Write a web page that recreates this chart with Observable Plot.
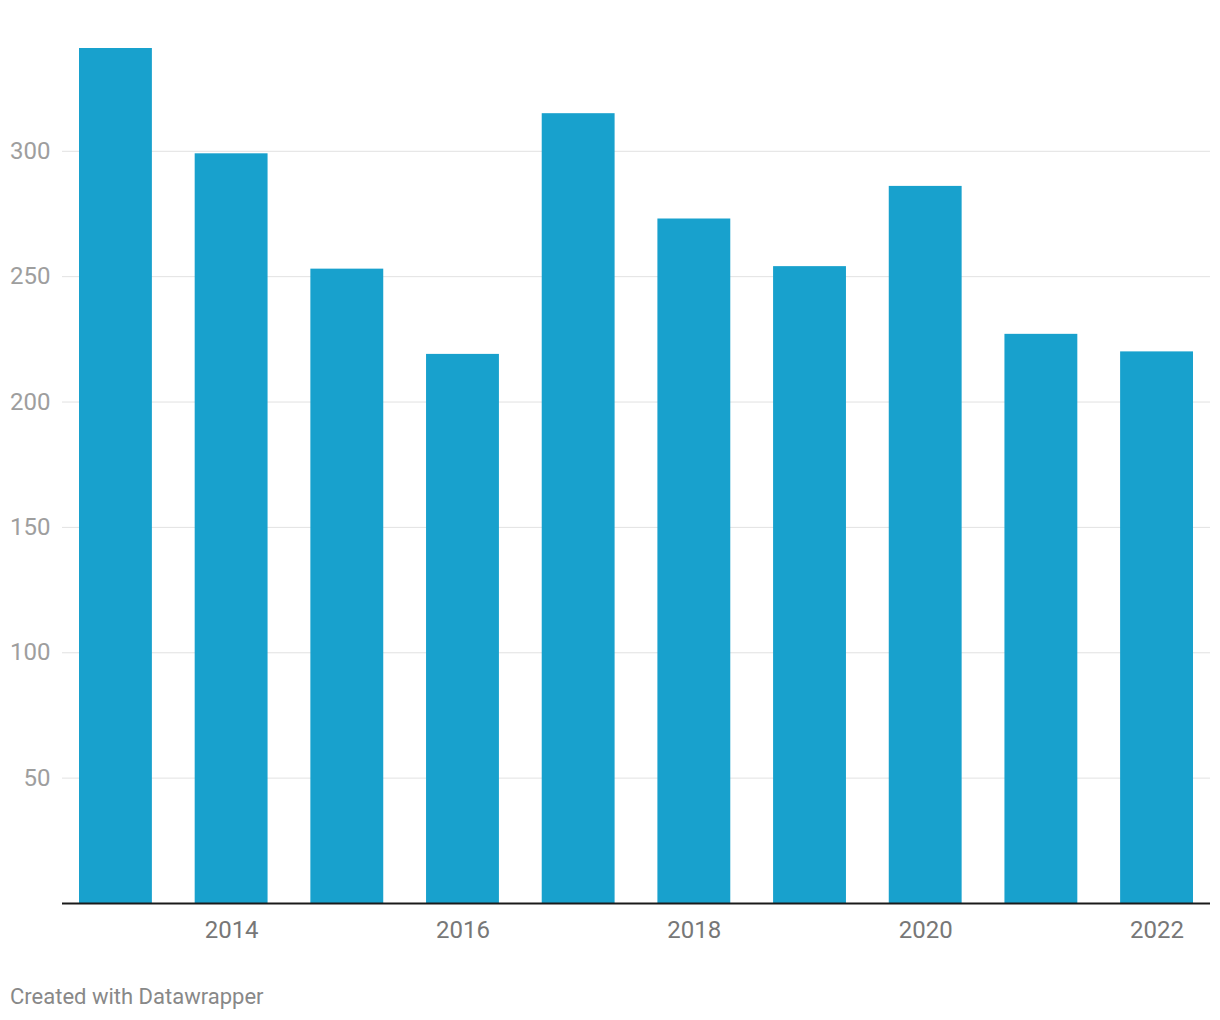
<!DOCTYPE html>
<html>
<head>
<meta charset="utf-8">
<script src="https://cdn.jsdelivr.net/npm/d3@7"></script>
<script src="https://cdn.jsdelivr.net/npm/@observablehq/plot@0.6"></script>
<style>
  html, body { margin: 0; padding: 0; background: #fff; }
  #wrap { position: relative; width: 1220px; height: 1020px; font-family: Roboto, sans-serif; }
  #caption { position: absolute; left: 10px; top: 984px; font-size: 22px; line-height: 26px; color: #888; }
</style>
</head>
<body>
<div id="wrap">
  <div id="chart"></div>
  <div id="caption">Created with Datawrapper</div>
</div>
<script>
const years = [2013, 2014, 2015, 2016, 2017, 2018, 2019, 2020, 2021, 2022];
const values = [341, 299, 253, 219, 315, 273, 254, 286, 227, 220];
const yTicks = [50, 100, 150, 200, 250, 300];
const xTicks = [2014, 2016, 2018, 2020, 2022];

const data = years.map((y, i) => ({year: y, value: values[i]}));

const chart = Plot.plot({
  width: 1220,
  height: 950,
  marginLeft: 62,
  marginRight: 10,
  marginTop: 48,
  marginBottom: 47,
  style: {fontFamily: "Roboto, sans-serif", background: "#fff"},
  x: {type: "band", domain: years, paddingInner: 0.37, paddingOuter: 0.147, round: false, label: null},
  y: {domain: [0, 341], label: null},
  marks: [
    Plot.gridY(yTicks, {stroke: "#e2e2e2", strokeOpacity: 1, strokeWidth: 1}),
    Plot.barY(data, {x: "year", y: "value", fill: "#18a1cd"}),
    Plot.ruleY([0], {stroke: "#1a1a1a", strokeWidth: 2}),
    Plot.axisY(yTicks, {tickSize: 0, tickPadding: 12, fontSize: 24, fill: "#9e9e9e", label: null}),
    Plot.axisX(xTicks, {tickSize: 0, tickPadding: 17, fontSize: 24, fill: "#777", tickFormat: d => String(d), label: null})
  ]
});
document.getElementById("chart").appendChild(chart);
</script>
</body>
</html>
